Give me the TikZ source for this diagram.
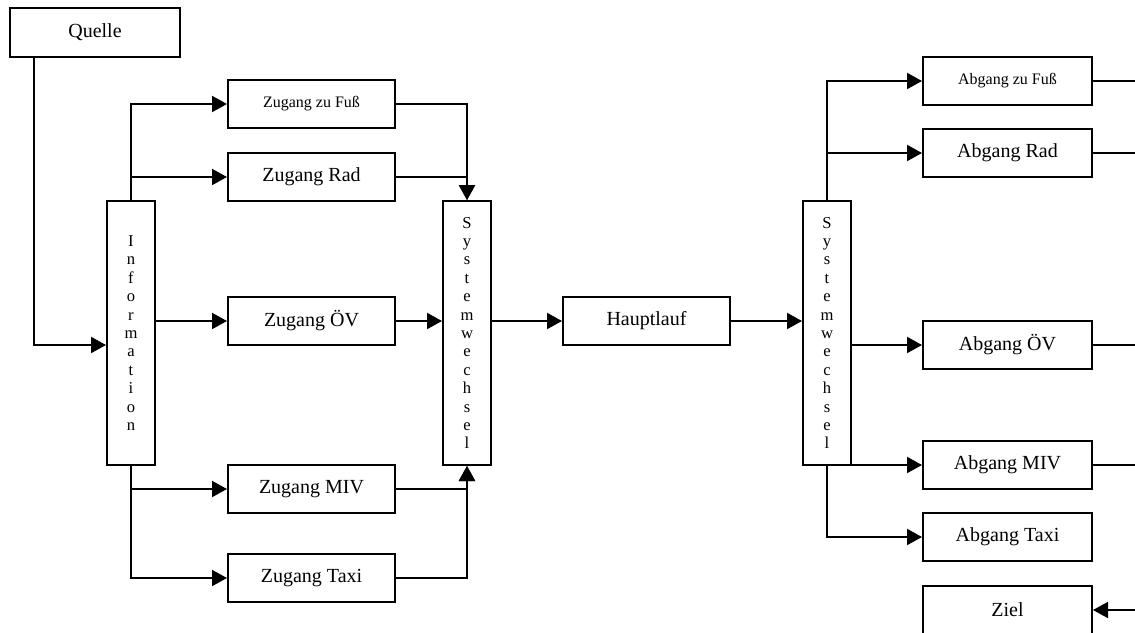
\documentclass[tikz,border=0pt]{standalone}
\usepackage{fontspec}
\setmainfont{Liberation Serif}
\usetikzlibrary{arrows.meta}

\begin{document}
\begin{tikzpicture}[x=0.5pt, y=-0.5pt, line width=1pt]
\tikzstyle{stage} = [rectangle, draw = black, line width=1pt, minimum width=84pt, minimum height=24pt, inner sep=0pt, font=\fontsize{10}{12}\selectfont]
\tikzstyle{small} = [font=\fontsize{8}{10}\selectfont]
\tikzstyle{column} = [rectangle, draw = black, line width=1pt, minimum width=24pt, minimum height=132pt, inner sep=0pt, align=center, font=\fontsize{8.3}{9.2}\selectfont]
\tikzstyle{arr} = [-{Triangle[length=7.5pt, width=8pt]}]
\path[use as bounding box, fill=white] (0,0) rectangle (1135,632);
\coordinate (rim) at (1135,0);
% nodes
\node (quelle) [stage, minimum width=85pt, minimum height=24.5pt] at (95,32.5) {Quelle};
\node (info) [column] at (131,333) {I\\n\\f\\o\\r\\m\\a\\t\\i\\o\\n};
\node (zfuss) [stage, small, minimum width=83.5pt] at (311.5,104) {Zugang zu Fuß};
\node (zrad) [stage, minimum width=83.5pt] at (311.5,177) {Zugang Rad};
\node (zoev) [stage, minimum width=83.5pt] at (311.5,321) {Zugang ÖV};
\node (zmiv) [stage, minimum width=83.5pt] at (311.5,489) {Zugang MIV};
\node (ztaxi) [stage, minimum width=83.5pt] at (311.5,578) {Zugang Taxi};
\node (sw1) [column] at (467,333) {S\\y\\s\\t\\e\\m\\w\\e\\c\\h\\s\\e\\l};
\node (haupt) [stage, minimum width=83.5pt] at (646.5,321) {Hauptlauf};
\node (sw2) [column] at (827,333) {S\\y\\s\\t\\e\\m\\w\\e\\c\\h\\s\\e\\l};
\node (afuss) [stage, small, minimum width=84.5pt] at (1007.5,81) {Abgang zu Fuß};
\node (arad) [stage, minimum width=84.5pt] at (1007.5,153) {Abgang Rad};
\node (aoev) [stage, minimum width=84.5pt] at (1007.5,345) {Abgang ÖV};
\node (amiv) [stage, minimum width=84.5pt] at (1007.5,465) {Abgang MIV};
\node (ataxi) [stage, minimum width=84.5pt] at (1007.5,537) {Abgang Taxi};
\node (ziel) [stage, minimum width=84.5pt] at (1007.5,610) {Ziel};
% Zugang
\draw [arr] ([xshift=12.5pt]quelle.south west) |- ([shift={(0,12)}]info.west);
\draw [arr] (info.north) |- (zfuss.west);
\draw [arr] (info.north) |- (zrad.west);
\draw [arr] (zoev.west -| info.east) -- (zoev.west);
\draw [arr] (info.south) |- (zmiv.west);
\draw [arr] (info.south) |- (ztaxi.west);
\draw [arr] (zfuss.east) -| (sw1.north);
\draw [arr] (zrad.east) -| (sw1.north);
\draw [arr] (zoev.east) -- (zoev.east -| sw1.west);
\draw [arr] (zmiv.east) -| (sw1.south);
\draw [arr] (ztaxi.east) -| (sw1.south);
% Hauptlauf
\draw [arr] (haupt.west -| sw1.east) -- (haupt.west);
\draw [arr] (haupt.east) -- (haupt.east -| sw2.west);
% Abgang
\draw [arr] (sw2.north) |- (afuss.west);
\draw [arr] (sw2.north) |- (arad.west);
\draw [arr] (aoev.west -| sw2.east) -- (aoev.west);
\draw [arr] (amiv.west -| sw2.east) -- (amiv.west);
\draw [arr] (sw2.south) |- (ataxi.west);
\draw (afuss.east) -- (afuss.east -| rim);
\draw (arad.east) -- (arad.east -| rim);
\draw (aoev.east) -- (aoev.east -| rim);
\draw (amiv.east) -- (amiv.east -| rim);
\draw [arr] (ziel.east -| rim) -- (ziel.east);
\end{tikzpicture}
\end{document}
